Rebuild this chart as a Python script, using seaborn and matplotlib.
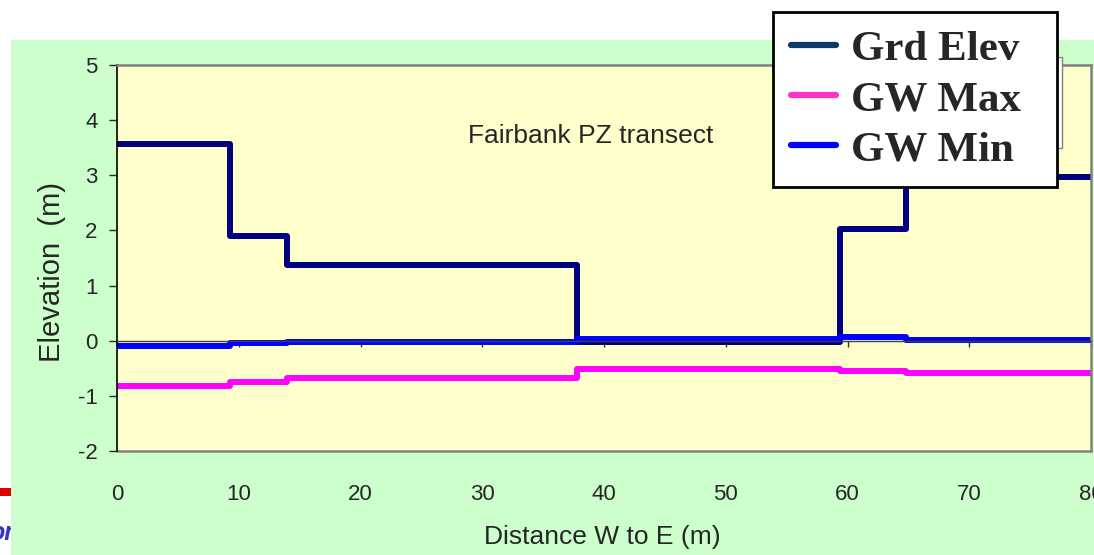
import pandas as pd
import matplotlib.pyplot as plt
from matplotlib.patches import Rectangle
import seaborn as sns

# step breakpoints along the transect (m) and level held until the next one
distance = [0, 9.3, 14.0, 37.8, 59.4, 64.8, 80]
grd_elev = [3.56, 1.89, 1.37, -0.02, 2.02, 2.97, 2.97]
gw_max = [-0.82, -0.75, -0.67, -0.52, -0.55, -0.59, -0.59]
gw_min = [-0.09, -0.05, -0.02, 0.04, 0.07, 0.02, 0.02]
series = ['Grd Elev', 'GW Max', 'GW Min']
line_colors = ['#000080', '#ff00ff', '#0000ff']
legend_colors = ['#0b3a68', '#ff33cc', '#0000ff']
x_ticks = list(range(0, 81, 10))
y_ticks = list(range(-2, 6))

df = pd.DataFrame({'Distance': distance, 'Grd Elev': grd_elev,
                   'GW Max': gw_max, 'GW Min': gw_min})

sns.set_style('ticks')
plt.rcParams['font.family'] = ['Liberation Sans', 'DejaVu Sans']
plt.rcParams['axes.unicode_minus'] = False

W, H = 1094, 555
fig = plt.figure(figsize=(W / 100, H / 100), dpi=100)

# slide background: green panel, with a red bar and a cut caption peeking out on the left
fig.patches.append(Rectangle((11 / W, 0), 1, 1 - 40 / H, transform=fig.transFigure,
                             facecolor='#ccffcc', edgecolor='none', zorder=-1))
fig.patches.append(Rectangle((0, 1 - 496 / H), 40 / W, 8 / H, transform=fig.transFigure,
                             facecolor='#dd0000', edgecolor='none', zorder=-3))
fig.text(14 / W, 1 - 533 / H, 'or', ha='right', va='center', color='#3333cc',
         fontsize=18, fontweight='bold', style='italic', zorder=-3)

ax = fig.add_axes([117 / W, 1 - 451 / H, (1091 - 117) / W, (451 - 65) / H])
ax.set_facecolor('#ffffcc')

for name, col in zip(series, line_colors):
    sns.lineplot(data=df, x='Distance', y=name, ax=ax, color=col, label=name,
                 drawstyle='steps-post', linewidth=4.3, errorbar=None)

ax.set_xlim(0, 80)
ax.set_ylim(-2, 5)
ax.set_xticks(x_ticks)
ax.set_yticks(y_ticks)

# x axis crosses at zero, labels stay low
ax.spines['bottom'].set_position(('data', 0))
ax.spines['bottom'].set_color('#404040')
ax.spines['bottom'].set_linewidth(1)
ax.spines['left'].set_color('black')
ax.spines['left'].set_linewidth(1.2)
for s in ['top', 'right']:
    ax.spines[s].set_visible(True)
    ax.spines[s].set_color('#808080')
    ax.spines[s].set_linewidth(1.8)
ax.axhline(-2, color='#808080', lw=1.8, clip_on=False, zorder=1)

ax.tick_params(axis='x', direction='out', length=4.5, width=1, pad=99,
               labelsize=16, color='#333333')
ax.tick_params(axis='y', direction='out', length=6, width=1, pad=8, labelsize=16)

ax.text(0.486, 0.816, 'Fairbank PZ transect', transform=ax.transAxes,
        ha='center', va='center', fontsize=19)
ax.set_xlabel('Distance W to E (m)', fontsize=19, va='center')
ax.xaxis.set_label_coords(0.498, -0.223)
ax.set_ylabel('Elevation  (m)', fontsize=21, va='center')
ax.yaxis.set_label_coords(-0.0667, 0.464)

# old legend frame hidden behind the big one
ax.add_patch(Rectangle((1000 / W, 1 - 148 / H), 62 / W, 91 / H, transform=fig.transFigure,
                       facecolor='white', edgecolor='#808080', lw=1, clip_on=False, zorder=4))

leg = ax.legend(loc='upper left',
                bbox_to_anchor=(773 / W, 1 - 188 / H, (1057 - 773) / W, 176 / H),
                mode='expand', bbox_transform=fig.transFigure, borderaxespad=0,
                frameon=True, fancybox=False, framealpha=1, edgecolor='black',
                prop={'family': 'Liberation Serif', 'weight': 'bold', 'size': 31},
                handlelength=1.05, handletextpad=0.35, borderpad=0.42, labelspacing=0.25)
leg.get_frame().set_linewidth(2)
leg.set_zorder(6)
for h, c in zip(leg.legend_handles, legend_colors):
    h.set_color(c)
    h.set_linewidth(4.5)

fig.savefig('out.png', dpi=100)
